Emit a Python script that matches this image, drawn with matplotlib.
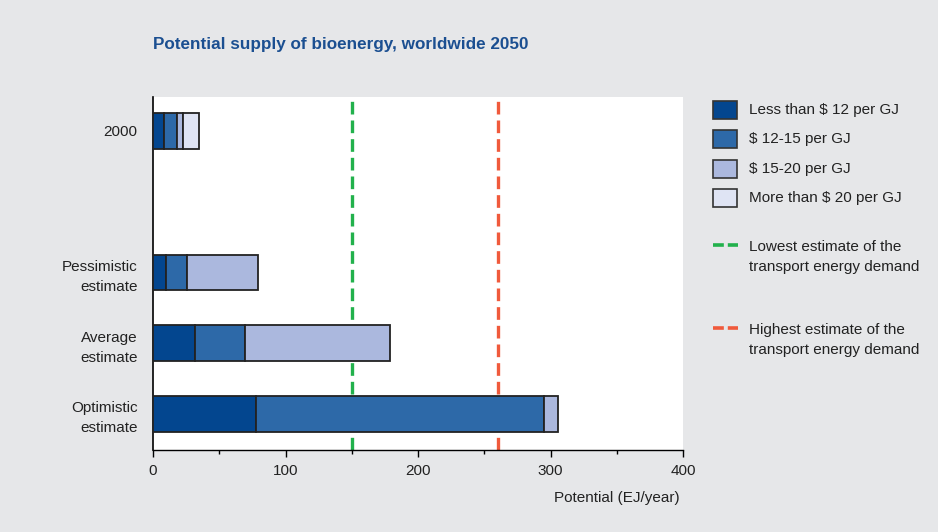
import matplotlib.pyplot as plt
from matplotlib.patches import Rectangle
from matplotlib.lines import Line2D

plt.rcParams['font.family'] = ['Liberation Sans', 'DejaVu Sans']

# Potencjał bioenergii (EJ/rok) w przedziałach kosztu
labels = ['2000', '', 'Pessimistic\nestimate', 'Average\nestimate', 'Optimistic\nestimate']
below_12 = [8, 0, 10, 31.5, 77.5]
from_12_15 = [10, 0, 16, 38, 217.5]
from_15_20 = [5, 0, 53, 109, 11]
above_20 = [12, 0, 0, 0, 0]

legend_labels = ['Less than $ 12 per GJ', '$ 12-15 per GJ', '$ 15-20 per GJ', 'More than $ 20 per GJ']
colors = ['#03468f', '#2d69a8', '#abb8de', '#dfe4f4']

# Zapotrzebowanie transportu (EJ/rok)
demand_low = 150
demand_high = 260

bg = '#e6e7e9'
fig = plt.figure(figsize=(9.38, 5.32), dpi=100, facecolor=bg)
ax = fig.add_axes([153 / 938, 1 - 450 / 532, 530 / 938, 353 / 532])
ax.set_facecolor('white')

segments = [below_12, from_12_15, from_15_20, above_20]
pos = list(range(len(labels)))
left = [0] * len(labels)
for vals, col in zip(segments, colors):
    for i in pos:
        if vals[i] > 0:
            ax.barh(i, vals[i], left=left[i], height=0.5, color=col,
                    edgecolor='#222222', linewidth=1.3, zorder=3)
    left = [l + v for l, v in zip(left, vals)]

ax.axvline(demand_low, color='#22b14c', linewidth=2.4, dashes=(3.8, 1.8), zorder=2)
ax.axvline(demand_high, color='#f05a3c', linewidth=2.4, dashes=(3.8, 1.8), zorder=2)

ax.set_xlim(0, 400)
ax.set_ylim(4.51, -0.48)
ax.set_yticks(pos)
ax.set_yticklabels(labels, fontsize=11, color='#222222', linespacing=1.55)
ax.tick_params(axis='y', length=0, pad=11)
ax.set_xticks([0, 100, 200, 300, 400])
ax.set_xticks([50, 150, 250, 350], minor=True)
ax.tick_params(axis='x', which='major', length=5, width=1, labelsize=11,
               labelcolor='#222222', pad=5)
ax.tick_params(axis='x', which='minor', length=3, width=1)
for s in ['top', 'right']:
    ax.spines[s].set_visible(False)
ax.spines['left'].set_linewidth(1.2)
ax.spines['bottom'].set_linewidth(1)
ax.set_xlabel('Potential (EJ/year)', fontsize=11, color='#222222')
ax.xaxis.set_label_coords(0.993, -0.115)
ax.xaxis.label.set_horizontalalignment('right')

fig.text(153 / 938, 1 - 45 / 532, 'Potential supply of bioenergy, worldwide 2050',
         fontsize=12.3, fontweight='bold', color='#1b4f91', va='center')

# Legenda rysowana ręcznie
W, H = 938, 532
for k, (lab, col) in enumerate(zip(legend_labels, colors)):
    yc = 110 + k * 29.3
    fig.patches.append(Rectangle((713 / W, 1 - (yc + 9) / H), 24 / W, 18 / H,
                                 transform=fig.transFigure, facecolor=col,
                                 edgecolor='#333333', linewidth=1.2))
    fig.text(749 / W, 1 - yc / H, lab, fontsize=11, color='#222222', va='center')

for yc, col, txt in [(245, '#22b14c', 'Lowest estimate of the\ntransport energy demand'),
                     (328, '#f05a3c', 'Highest estimate of the\ntransport energy demand')]:
    fig.add_artist(Line2D([713 / W, 738 / W], [1 - yc / H] * 2, color=col,
                          linewidth=2.6, dashes=(3, 1.1), transform=fig.transFigure))
    fig.text(749 / W, 1 - (yc - 5) / H, txt, fontsize=11, color='#222222',
             va='top', linespacing=1.55)

fig.savefig('out.png', dpi=100, facecolor=bg)
